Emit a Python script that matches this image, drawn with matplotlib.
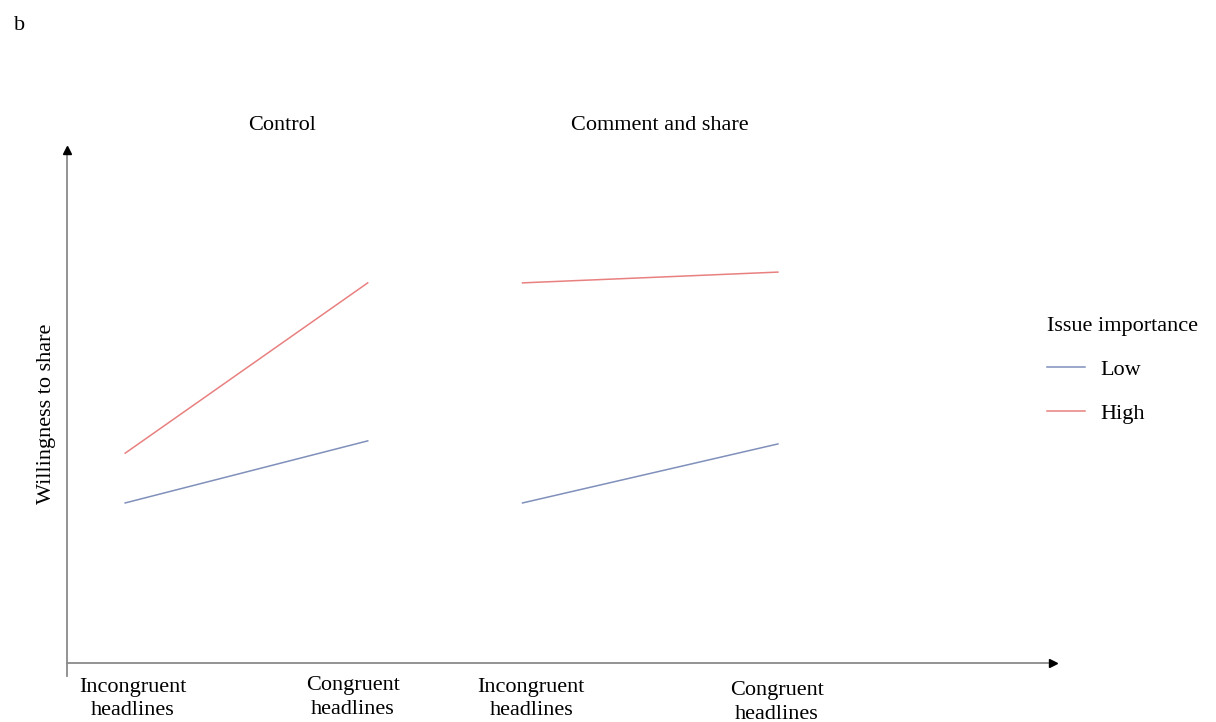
import matplotlib.pyplot as plt

plt.rcParams["font.family"] = ["Liberation Serif", "DejaVu Serif"]

# willingness to share (arbitrary units)
conditions = ["Control", "Comment and share"]
headlines = ["Incongruent\nheadlines", "Congruent\nheadlines"]
low_control = [3.12, 4.33]
high_control = [4.09, 7.41]
low_comment = [3.12, 4.27]
high_comment = [7.41, 7.62]

low_color = "#8090bb"
high_color = "#e98080"

fig = plt.figure(figsize=(12.16, 7.22), dpi=100)
ax = fig.add_axes([67 / 1216, 59 / 722, 986 / 1216, 513 / 722])
ax.set_xlim(0, 10)
ax.set_ylim(0, 10)
ax.axis("off")

x_control = [0.59, 3.05]
x_comment = [4.62, 7.21]

ax.plot(x_control, low_control, color=low_color, linewidth=1.1, label="Low")
ax.plot(x_control, high_control, color=high_color, linewidth=1.1, label="High")
ax.plot(x_comment, low_comment, color=low_color, linewidth=1.1)
ax.plot(x_comment, high_comment, color=high_color, linewidth=1.1)

# axes drawn as arrows
tr = ax.transAxes
ax.plot([0, 0], [-13 / 513, 0.995], color="#8a8a8a", linewidth=1.3,
        transform=tr, clip_on=False)
ax.plot([0, 0.995], [0, 0], color="#8a8a8a", linewidth=1.3,
        transform=tr, clip_on=False)
ax.plot([0], [1.0], marker="^", color="black", markersize=6,
        transform=tr, clip_on=False)
ax.plot([1.0], [0], marker=">", color="black", markersize=6,
        transform=tr, clip_on=False)

# x labels
label_x = [0.67, 2.90, 4.71, 7.20]
label_y = [-0.29, -0.26, -0.29, -0.36]
for i, lx in enumerate(label_x):
    ax.text(lx, label_y[i], headlines[i % 2], ha="center", va="top",
            fontsize=16, linespacing=1.32)

# panel titles
ax.text(2.18, 10.47, conditions[0], ha="center", va="center", fontsize=16)
ax.text(6.01, 10.47, conditions[1], ha="center", va="center", fontsize=16)

fig.text(47 / 1216, 1 - 414 / 722, "Willingness to share", rotation=90,
         ha="center", va="center", fontsize=16)

fig.text(14 / 1216, 1 - 25 / 722, "b", ha="left", va="center", fontsize=16)

leg = fig.legend(title="Issue importance", loc="upper left",
                 bbox_to_anchor=(1027 / 1216, 1 - 297 / 722),
                 frameon=False, fontsize=16, title_fontsize=16,
                 handlelength=1.7, handletextpad=0.7, labelspacing=1.05,
                 alignment="left")

fig.savefig("out.png", dpi=100)
